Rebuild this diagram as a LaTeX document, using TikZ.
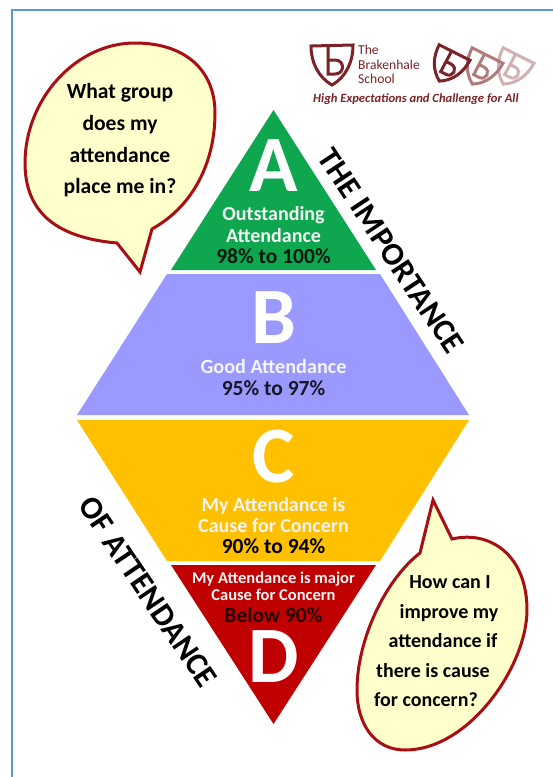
\documentclass[tikz,border=0pt]{standalone}
\usepackage{fontspec}
\setmainfont{Carlito}
\definecolor{bord}{HTML}{5B9BD5}
\definecolor{cA}{HTML}{0FA650}
\definecolor{cB}{HTML}{9999FF}
\definecolor{cC}{HTML}{FFC000}
\definecolor{cD}{HTML}{C00000}
\definecolor{bub}{HTML}{FFFFCC}
\definecolor{bubl}{HTML}{A80F14}
\definecolor{logo}{HTML}{7B2326}
\definecolor{lineW}{HTML}{F4F4F4}
\tikzset{
  x=1pt,y=-1pt,
  lbl/.style={anchor=base,inner sep=0pt,font=\bfseries\fontsize{#1}{#1}\selectfont},
  letter/.style={anchor=base,inner sep=0pt,text=white,font=\bfseries\fontsize{80}{80}\selectfont},
  band/.style={text=lineW},
  bubble/.style={fill=bub,draw=bubl,line width=3pt,line join=miter},
  side/.style={inner sep=0pt,text=black,font=\bfseries\fontsize{#1}{#1}\selectfont},
  logotext/.style={anchor=base west,inner sep=0pt,text=logo,font=\fontsize{13.6}{13.6}\selectfont},
  shield/.pic={
    \draw[line width=3pt,line join=miter,draw=#1] (-21,-14) -- (21,-15) .. controls (21,2) and (14,17) .. (0,25) .. controls (-14,17) and (-21,2) .. (-21,-14) -- cycle;
    \draw[line width=3pt,draw=#1] (-4,-15) -- (-4,14) -- (3,14) .. controls (13,14) and (13,0) .. (3,0) -- (-4,0);
  }
}
\begin{document}
\begin{tikzpicture}
\useasboundingbox (0,0) rectangle (553,777);
\fill[white] (0,0) rectangle (553,777);
\fill[bord] (11,9) rectangle (553,11);
\fill[bord] (11,9) rectangle (13,777);
% bands
\fill[cA] (273.5,110) -- (376,270) -- (171,270) -- cycle;
\fill[cB] (167,274) -- (380,274) -- (469,415) -- (77,415) -- cycle;
\fill[cC] (77,420) -- (469,420) -- (380,561) -- (167,561) -- cycle;
\fill[cD] (171,565) -- (376,565) -- (273.5,724) -- cycle;
% letters
\node[letter] (la) at (273.5,191) {A};
\node[letter] (lb) at (274,343) {B};
\node[letter] (lc) at (274,482) {C};
\node[letter] (ld) at (274,682) {D};
% texts
\node[lbl=20,band] (a1) at (273.5,220) {Outstanding};
\node[lbl=20,band] (a2) at (273.5,242) {Attendance};
\node[lbl=21.5,text=black!85!cA] (a3) at (273.5,263) {98\% to 100\%};
\node[lbl=20.2,band] (b1) at (273.5,373) {Good Attendance};
\node[lbl=21.5,text=black!85!cB] (b2) at (273.5,395) {95\% to 97\%};
\node[lbl=20,band] (c1) at (273.5,511) {My Attendance is};
\node[lbl=20,band] (c2) at (273.5,532) {Cause for Concern};
\node[lbl=21.5,text=black] (c3) at (273.5,553) {90\% to 94\%};
\node[lbl=16.5,band] (d1) at (273.5,583) {My Attendance is major};
\node[lbl=16.5,band] (d2) at (273.5,600) {Cause for Concern};
\node[lbl=21.5,text=black!80!cD] (d3) at (273.5,622) {Below 90\%};
% side
\node[side=32,rotate=-56.5] (s1) at (391,251) {THE IMPORTANCE};
\node[side=32,rotate=-56] (s2) at (148,592) {OF ATTENDANCE};
% bubbles
\draw[bubble] (117,243) .. controls (60,238) and (25,215) .. (25,163) .. controls (25,100) and (75,43) .. (135,43) .. controls (185,43) and (215,70) .. (215,113) .. controls (215,160) and (195,205) .. (152,229) -- (140,272) -- cycle;
\draw[bubble] (452,539) .. controls (490,530) and (527,555) .. (527,610) .. controls (527,665) and (470,750) .. (405,750) .. controls (375,750) and (357,725) .. (357,690) .. controls (357,640) and (385,580) .. (420,553) -- (433,500) -- cycle;
\node[lbl=21.6] (q1) at (120,98) {What group};
\node[lbl=21.6] (q2) at (120,130) {does my};
\node[lbl=21.6] (q3) at (120,162) {attendance};
\node[lbl=21.6] (q4) at (120,193) {place me in?};
\node[lbl=20] (h1) at (450,588) {How can I};
\node[lbl=20] (h2) at (449,618) {improve my};
\node[lbl=20] (h3) at (443,647) {attendance if};
\node[lbl=20] (h4) at (433,677) {there is cause};
\node[lbl=20] (h5) at (426,706) {for concern?};
% logo
\pic at (332,60) {shield={logo}};
\pic[rotate=-28,scale=0.82] at (513,66) {shield={logo!35}};
\pic[rotate=-28,scale=0.82] at (482,66) {shield={logo!60}};
\pic[rotate=-28,scale=0.82] at (449,63) {shield={logo}};
\node[logotext] (t1) at (358,54) {The};
\node[logotext] (t2) at (358,69) {Brakenhale};
\node[logotext] (t3) at (358,83) {School};
\node[anchor=base west,inner sep=0pt,text=logo,font=\bfseries\itshape\fontsize{12.6}{12.6}\selectfont] (t4) at (313,102) {High Expectations and Challenge for All};
\end{tikzpicture}
\end{document}
